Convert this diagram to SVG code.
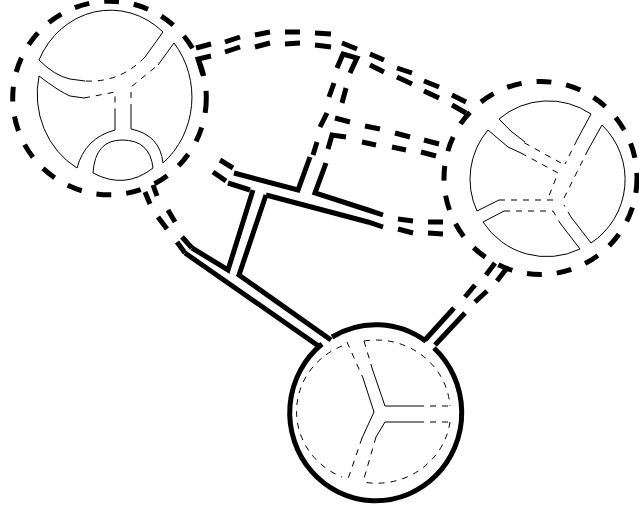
<svg xmlns="http://www.w3.org/2000/svg" width="639" height="507" viewBox="0 0 639 507">
<style>
.o{fill:none;stroke:#000;stroke-width:5;stroke-dasharray:15 15}
.c{fill:none;stroke:#000;stroke-width:5;stroke-linejoin:miter}
.s{fill:none;stroke:#000;stroke-width:1}
.d{fill:none;stroke:#000;stroke-width:1;stroke-dasharray:6 6}
</style>
<rect width="639" height="507" fill="#fff"/>
<g id="connectors">
<path class="c" d="M185 253L320 347M192 248L228 270L253 190M266 195L239 275L331 340"/>
<path class="c" d="M177 242L185 253M182 237L192 248M158 217L167 229M168 210L175 222M145 192L150 204M153 185L157 196"/>
<path class="c" d="M220 160L233 168M234 173L298 190L310 157M213 172L226 181M228 183L250 190"/>
<path class="c" d="M313 155L317 142M320 127L327 113M329 97L334 83M337 68L343 54L357 58L350 73M342 103L346 88"/>
<path class="c" d="M266 195L368 222L383 227M398 229L413 233M428 233L443 234"/>
<path class="c" d="M326 163L315 193L368 210L383 215M398 219L413 221M428 222L443 222"/>
<path class="c" d="M328 149L332 135L346 137M362 142L376 145M392 147L406 150M421 152L436 156"/>
<path class="c" d="M335 118L350 122M365 126L380 129M395 133L410 137M424 140L439 144"/>
<path class="c" d="M196 48L211 44M225 42L240 37M255 35L270 32M285 32L300 32M315 33L331 34M342 43L357 49M370 54L384 60M397 68L412 73M424 81L439 87M452 95L466 102"/>
<path class="c" d="M203 75L198 59L211 56M225 52L240 47M255 47L270 43M285 44L300 43M315 45L331 47M370 65L384 72M397 77L412 84M424 91L439 98M452 105L466 113"/>
<path class="c" d="M425 340L454 308M435 345L465 313M465 297L475 285M475 302L487 291M486 275L495 263M497 281L507 268"/>
</g>
<g id="node-a">
<circle class="o" cx="109.500" cy="98" r="96.800"/>
<path class="s" d="M39 60A78.500 85 0 0 1 163 32L145 57M85 81L70 79Q55 76 39 60"/>
<path class="d" d="M145 57Q120 83 85 81"/>
<path class="s" d="M39 76Q60 92 70 96L84 98M115 113V130Q85 138 77 168A78.500 85 0 0 1 39 76"/>
<path class="d" d="M84 98L115 92V113"/>
<path class="s" d="M174 43A78.500 85 0 0 1 163 163Q160 135 131 129V110"/>
<path class="d" d="M131 110V87L158 65"/>
<path class="s" d="M158 65L174 43"/>
<path class="s" d="M93 173Q95 140 122 140Q150 140 153 168Q125 190 93 173Z"/>
</g>
<g id="node-b">
<circle class="o" cx="540.500" cy="178" r="96.500"/>
<path class="s" d="M499 119A76 76 0 0 1 591 114L577 140M525 142Q510 132 499 119"/>
<path class="d" d="M577 140L565 164M561 163L521 141"/>
<path class="s" d="M488 130L508 147L521 153M499 200L477 211A76 76 0 0 1 488 130"/>
<path class="d" d="M521 153L558 173L547 201M553 200L499 200"/>
<path class="s" d="M483 222L504 211M560 223L580 249A76 76 0 0 1 483 222"/>
<path class="d" d="M504 211H553L560 223"/>
<path class="s" d="M602 125A76 76 0 0 1 591 243L571 217M588 150L602 125"/>
<path class="d" d="M571 217L564 205M564 198L588 150"/>
</g>
<g id="node-c">
<path fill="none" stroke="#000" stroke-width="5" d="M332 337A86 88 0 0 1 426 341.300M434 348A86 88 0 1 1 322 344"/>
<path class="d" d="M342 346A74 71 0 0 0 342 477M364 341A74 71 0 0 1 450 406M450 422A74 71 0 0 1 363 482"/>
<path class="d" d="M347 342L363 378M364 341L372 368M418 406H450M418 422H450M362 438L347 482M376 437L363 482"/>
<path class="s" d="M363 378L374 412L362 438M372 368L385 406H418M418 422H385L376 437"/>
</g>
</svg>
